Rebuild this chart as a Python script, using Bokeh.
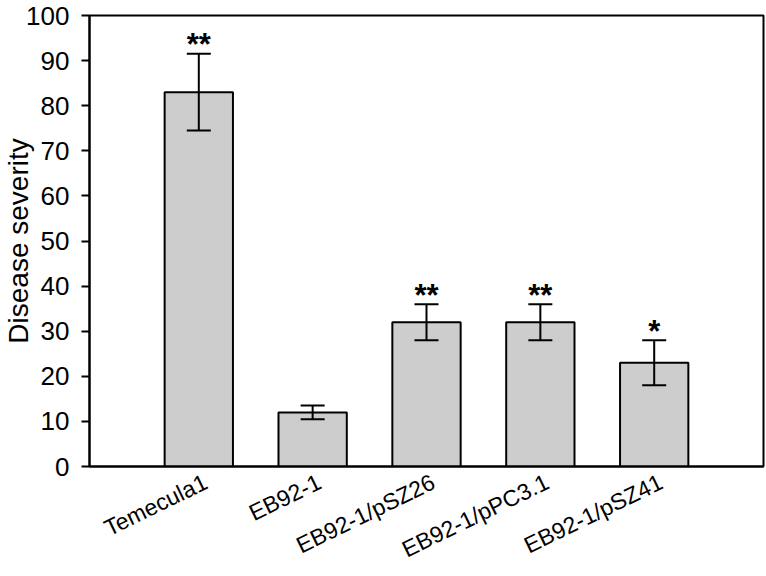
from bokeh.plotting import figure
from bokeh.models import (ColumnDataSource, Range1d, FixedTicker, Whisker, TeeHead, LabelSet)
from bokeh.core.properties import value
from bokeh.embed import file_html
from bokeh.resources import INLINE
import math

categories = ["Temecula1", "EB92-1", "EB92-1/pSZ26", "EB92-1/pPC3.1", "EB92-1/pSZ41"]
severity = [83, 12, 32, 32, 23]
error = [8.5, 1.5, 4, 4, 5]
significance = ["**", "", "**", "**", "*"]
y_ticks = [0, 10, 20, 30, 40, 50, 60, 70, 80, 90, 100]
y_title = "Disease severity"

xs = list(range(1, len(categories) + 1))
upper = [m + e for m, e in zip(severity, error)]
lower = [m - e for m, e in zip(severity, error)]

src = ColumnDataSource(dict(x=xs, top=severity, upper=upper, lower=lower, sig=significance))

FONT = "Liberation Sans"
LABEL_SHIFT = 0.06  # nudge of rotated category labels to the right (in category units)

p = figure(width=766, height=576, output_backend="svg", toolbar_location=None,
           x_range=Range1d(0.04, 5.96), y_range=Range1d(0, 100),
           min_border_left=88, min_border_right=3, min_border_top=15, min_border_bottom=110)
p.background_fill_color = "white"
p.border_fill_color = "white"
p.grid.visible = False
p.outline_line_color = "black"
p.outline_line_width = 2

p.vbar(x="x", top="top", bottom=0, width=0.6, source=src,
       fill_color="#cdcdcd", line_color="black", line_width=2)

w = Whisker(base="x", upper="upper", lower="lower", source=src,
            line_color="black", line_width=2, level="overlay",
            upper_head=TeeHead(size=24, line_color="black", line_width=2),
            lower_head=TeeHead(size=24, line_color="black", line_width=2))
p.add_layout(w)

stars = LabelSet(x="x", y="upper", text="sig", source=src, y_offset=9,
                 text_align="center", text_baseline="middle",
                 text_font=value(FONT), text_font_size="31px",
                 text_font_style="bold", text_color="black", level="overlay")
p.add_layout(stars)

# y axis
p.yaxis.ticker = FixedTicker(ticks=y_ticks)
p.yaxis.axis_label = y_title
p.yaxis.axis_label_text_font = FONT
p.yaxis.axis_label_text_font_size = "28px"
p.yaxis.axis_label_text_font_style = "normal"
p.yaxis.axis_label_text_color = "black"
p.yaxis.axis_label_standoff = -11
p.yaxis.major_label_text_font = FONT
p.yaxis.major_label_text_font_size = "26px"
p.yaxis.major_label_text_color = "black"
p.yaxis.major_label_standoff = 12
p.yaxis.major_tick_out = 8
p.yaxis.major_tick_in = 0
p.yaxis.minor_tick_line_color = None
p.yaxis.axis_line_width = 2
p.yaxis.major_tick_line_width = 2

# x axis
label_ticks = [x + LABEL_SHIFT for x in xs]
p.xaxis.ticker = FixedTicker(ticks=label_ticks)
p.xaxis.major_label_overrides = {t: c for t, c in zip(label_ticks, categories)}
p.xaxis.major_label_orientation = math.radians(26)
p.xaxis.major_label_text_font = FONT
p.xaxis.major_label_text_font_size = "23px"
p.xaxis.major_label_text_color = "black"
p.xaxis.major_label_standoff = 14
p.xaxis.major_tick_line_color = None
p.xaxis.major_tick_out = 0
p.xaxis.major_tick_in = 0
p.xaxis.minor_tick_line_color = None
p.xaxis.axis_line_width = 2

open("out.html", "w").write(file_html(p, INLINE))
